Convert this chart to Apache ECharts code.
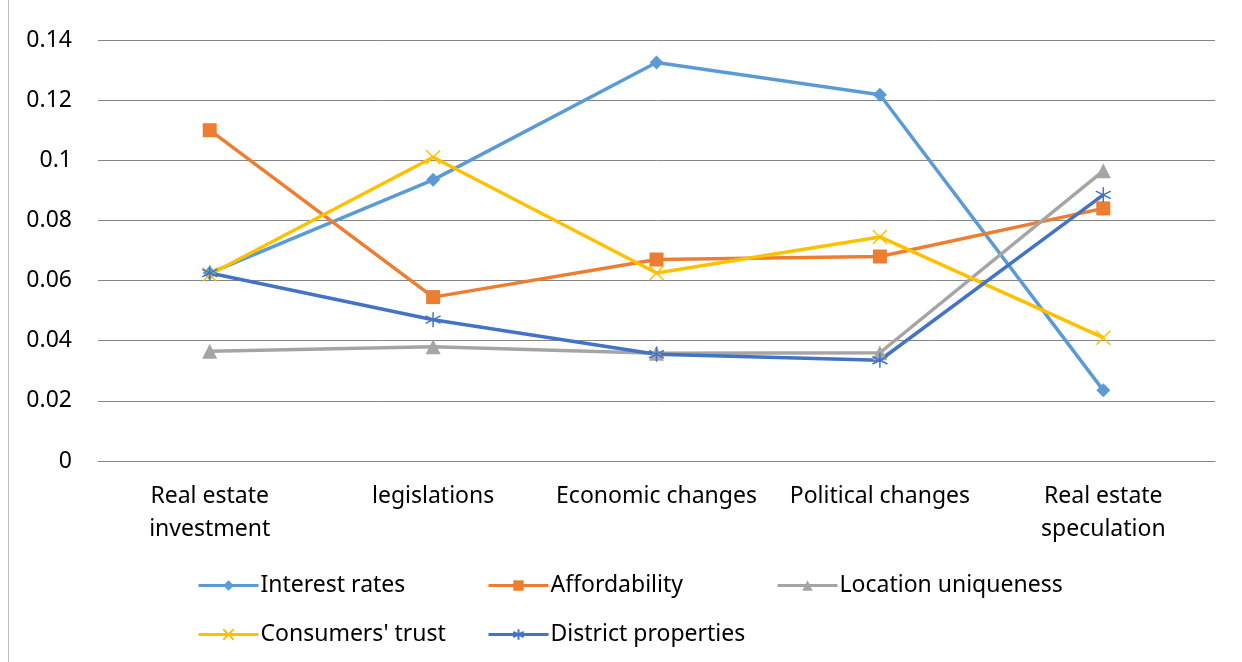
<!DOCTYPE html>
<html>
<head>
<meta charset="utf-8">
<script src="https://cdn.jsdelivr.net/npm/echarts@6/dist/echarts.min.js"></script>
<style>
  html, body { margin: 0; padding: 0; background: #fff; }
  #chart { width: 1242px; height: 662px; }
</style>
</head>
<body>
<div id="chart"></div>
<script>
// 类别与数据
const categories = ['Real estate\ninvestment', 'legislations', 'Economic changes', 'Political changes', 'Real estate\nspeculation'];
const interestRates = [0.0625, 0.0935, 0.1325, 0.1218, 0.0235];
const affordability = [0.110, 0.0545, 0.067, 0.068, 0.084];
const locationUniqueness = [0.0365, 0.038, 0.0358, 0.036, 0.0965];
const consumersTrust = [0.062, 0.101, 0.0625, 0.0745, 0.041];
const districtProperties = [0.0625, 0.047, 0.0355, 0.0335, 0.0885];
const yTicks = [0, 0.02, 0.04, 0.06, 0.08, 0.1, 0.12, 0.14];

const FONT = 'Noto Sans';
const FS = 23;
const crossPath = 'path://M0,0L10,10M10,0L0,10';
const starPath = 'path://M5,0L5,10M0,2.5L10,7.5M0,7.5L10,2.5';

const seriesDefs = [
  { name: 'Interest rates', data: interestRates, color: '#5B9BD5', symbol: 'diamond', size: 14 },
  { name: 'Affordability', data: affordability, color: '#ED7D31', symbol: 'rect', size: 14 },
  { name: 'Location uniqueness', data: locationUniqueness, color: '#A5A5A5', symbol: 'triangle', size: 15 },
  { name: "Consumers' trust", data: consumersTrust, color: '#FFC000', symbol: crossPath, size: 14 },
  { name: 'District properties', data: districtProperties, color: '#4472C4', symbol: starPath, size: 15 }
];

const chart = echarts.init(document.getElementById('chart'));

// 图例位置（两行）
const legendPos = [
  { left: 192, top: 569 },
  { left: 482, top: 569 },
  { left: 771, top: 569 },
  { left: 192, top: 618 },
  { left: 482, top: 618 }
];

const option = {
  animation: false,
  backgroundColor: '#fff',
  textStyle: { fontFamily: FONT },
  graphic: [{
    type: 'line',
    shape: { x1: 8.5, y1: 0, x2: 8.5, y2: 662 },
    style: { stroke: '#bfbfbf', lineWidth: 1 }
  }],
  legend: seriesDefs.map((s, i) => ({
    data: [s.name],
    left: legendPos[i].left,
    top: legendPos[i].top,
    itemWidth: 60,
    itemHeight: 13,
    itemGap: 4,
    lineStyle: { width: 3 },
    textStyle: { fontFamily: FONT, fontSize: FS, color: '#000', padding: [0, 0, 0, -3] }
  })),
  grid: { left: 98, right: 27, top: 40, bottom: 201, containLabel: false },
  xAxis: {
    type: 'category',
    data: categories,
    boundaryGap: true,
    axisLine: { lineStyle: { color: '#868686' } },
    axisTick: { show: false },
    axisLabel: { fontFamily: FONT, fontSize: FS, color: '#000', lineHeight: 33, margin: 19, interval: 0 }
  },
  yAxis: {
    type: 'value',
    min: 0,
    max: 0.14,
    interval: 0.02,
    axisLine: { show: false },
    axisTick: { show: false },
    splitLine: { lineStyle: { color: '#868686', width: 1 } },
    axisLabel: {
      fontFamily: FONT, fontSize: FS, color: '#000', margin: 26,
      formatter: v => {
        const t = yTicks.find(x => Math.abs(x - v) < 1e-9);
        return t === undefined ? '' : String(+t.toFixed(2));
      }
    }
  },
  series: seriesDefs.map(s => ({
    name: s.name,
    type: 'line',
    data: s.data,
    symbol: s.symbol,
    symbolSize: s.size,
    showAllSymbol: true,
    lineStyle: { color: s.color, width: 3.5 },
    itemStyle: {
      color: s.color,
      borderColor: s.color,
      borderWidth: (s.symbol === crossPath || s.symbol === starPath) ? 1.5 : 0
    }
  }))
};

chart.setOption(option);
</script>
</body>
</html>
